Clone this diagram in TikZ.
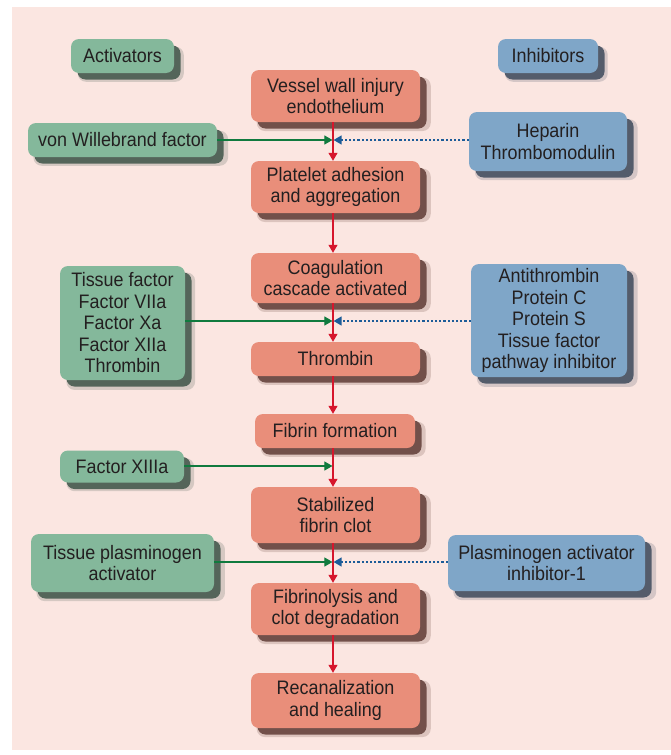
\documentclass[tikz,border=0pt]{standalone}
\usepackage{fontspec}
\setmainfont{Liberation Sans}[FakeStretch=0.92]
\usetikzlibrary{shadows,arrows.meta}
\definecolor{bg}{RGB}{251,230,225}
\definecolor{salm}{RGB}{233,142,122}
\definecolor{salmsh}{RGB}{96,60,54}
\definecolor{grn}{RGB}{132,184,155}
\definecolor{grnsh}{RGB}{62,84,72}
\definecolor{blu}{RGB}{127,166,200}
\definecolor{blush}{RGB}{62,74,92}
\definecolor{txt}{RGB}{35,31,32}
\definecolor{redl}{RGB}{214,22,44}
\definecolor{grnl}{RGB}{16,122,62}
\definecolor{blul}{RGB}{28,92,152}
\begin{document}
\begin{tikzpicture}[x=1pt,y=-1pt,
  sh/.style={drop shadow={shadow xshift=8pt,shadow yshift=-8pt,shadow scale=1.03,fill=#1,opacity=0.2},
             drop shadow={shadow xshift=6.5pt,shadow yshift=-6.5pt,fill=#1,opacity=0.85}},
  box/.style={rounded corners=8pt,inner sep=0pt,align=center,text=txt,
              font=\fontsize{19.5}{21.5}\selectfont},
  mainbox/.style={box,fill=salm,sh=salmsh,minimum width=169pt},
  actbox/.style={box,fill=grn,sh=grnsh},
  inhbox/.style={box,fill=blu,sh=blush},
  redarr/.style={draw=redl,line width=1.1pt,-{Triangle[length=8pt,width=9pt]}},
  grnarr/.style={draw=grnl,line width=1.1pt,-{Triangle[length=8pt,width=9pt]}},
  bluarr/.style={draw=blul,line width=1.4pt,dash pattern=on 2.2pt off 2pt,-{Triangle[length=8pt,width=9pt]}}
]
\useasboundingbox (0,0) rectangle (671,755);
\fill[bg] (12,7) rectangle (671,750);

% headers
\node[actbox,minimum width=103pt,minimum height=34pt] (act) at (122.5,56) {Activators};
\node[inhbox,minimum width=100pt,minimum height=34pt] (inh) at (548,56) {Inhibitors};

% main column
\node[mainbox,minimum height=52pt] (vessel) at (335.5,96) {Vessel wall injury\\endothelium};
\node[mainbox,minimum height=52pt] (platelet) at (335.5,187) {Platelet adhesion\\and aggregation};
\node[mainbox,minimum height=50pt] (coag) at (335.5,278) {Coagulation\\cascade activated};
\node[mainbox,minimum height=34pt] (thrombin) at (335.5,359) {Thrombin};
\node[mainbox,minimum width=160pt,minimum height=34pt] (fibrin) at (335,431) {Fibrin formation};
\node[mainbox,minimum height=56pt] (stab) at (335.5,515) {Stabilized\\fibrin clot};
\node[mainbox,minimum height=52pt] (lysis) at (335.5,609) {Fibrinolysis and\\clot degradation};
\node[mainbox,minimum height=55pt] (recan) at (335.5,700.5) {Recanalization\\and healing};

% activators
\node[actbox,minimum width=189pt,minimum height=34pt] (vwf) at (122.5,140) {von Willebrand factor};
\node[actbox,minimum width=125pt,minimum height=114pt] (tf) at (122.5,323) {Tissue factor\\Factor VIIa\\Factor Xa\\Factor XIIa\\Thrombin};
\node[actbox,minimum width=124pt,minimum height=32pt] (f13) at (122,466.5) {Factor XIIIa};
\node[actbox,minimum width=183pt,minimum height=58pt] (tpa) at (122.5,563) {Tissue plasminogen\\activator};

% inhibitors
\node[inhbox,minimum width=158pt,minimum height=59pt] (hep) at (548,141.5) {Heparin\\Thrombomodulin};
\node[inhbox,minimum width=156pt,minimum height=113pt] (at) at (549,320.5) {Antithrombin\\Protein C\\Protein S\\Tissue factor\\pathway inhibitor};
\node[inhbox,minimum width=197pt,minimum height=56pt] (pai) at (546.5,563) {Plasminogen activator\\inhibitor-1};

% spine and junctions
\coordinate (spine) at (333,0);
\coordinate (j1) at (333,140);
\coordinate (j2) at (333,321);
\coordinate (j3) at (333,466);
\coordinate (j4) at (333,562);

\draw[redarr] (vessel.south -| spine) -- (platelet.north -| spine);
\draw[redarr] (platelet.south -| spine) -- (coag.north -| spine);
\draw[redarr] (coag.south -| spine) -- (thrombin.north -| spine);
\draw[redarr] (thrombin.south -| spine) -- (fibrin.north -| spine);
\draw[redarr] (fibrin.south -| spine) -- (stab.north -| spine);
\draw[redarr] (stab.south -| spine) -- (lysis.north -| spine);
\draw[redarr] (lysis.south -| spine) -- (recan.north -| spine);

\draw[grnarr] (vwf.east |- j1) -- ([xshift=-0.6pt]j1);
\draw[grnarr] (tf.east |- j2) -- ([xshift=-0.6pt]j2);
\draw[grnarr] (f13.east |- j3) -- ([xshift=-0.6pt]j3);
\draw[grnarr] (tpa.east |- j4) -- ([xshift=-0.6pt]j4);

\draw[bluarr] (hep.west |- j1) -- ([xshift=0.6pt]j1);
\draw[bluarr] (at.west |- j2) -- ([xshift=0.6pt]j2);
\draw[bluarr] (pai.west |- j4) -- ([xshift=0.6pt]j4);
\end{tikzpicture}
\end{document}
